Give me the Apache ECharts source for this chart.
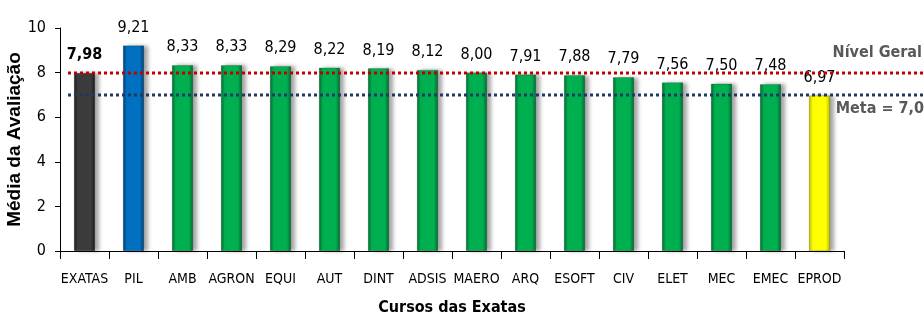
<!DOCTYPE html>
<html>
<head>
<meta charset="utf-8">
<script src="https://cdn.jsdelivr.net/npm/echarts@6/dist/echarts.min.js"></script>
<style>
  html, body { margin: 0; padding: 0; background: #fff; }
  #chart { width: 924px; height: 320px; }
</style>
</head>
<body>
<div id="chart"></div>
<script>
// Course averages
const courses = ['EXATAS', 'PIL', 'AMB', 'AGRON', 'EQUI', 'AUT', 'DINT', 'ADSIS', 'MAERO', 'ARQ', 'ESOFT', 'CIV', 'ELET', 'MEC', 'EMEC', 'EPROD'];
const averages = [7.98, 9.21, 8.33, 8.33, 8.29, 8.22, 8.19, 8.12, 8.00, 7.91, 7.88, 7.79, 7.56, 7.50, 7.48, 6.97];
const generalLevel = 7.98;
const target = 7.0;
const yTicks = [0, 2, 4, 6, 8, 10];

const FONT = '"Liberation Sans Narrow", "DejaVu Sans Condensed", "Open Sans", sans-serif';

function barColor(i) {
  let base, edge;
  if (i === 0) { base = '#3c3c3c'; edge = '#1c1c1c'; }
  else if (i === 1) { base = '#0070c0'; edge = '#003f73'; }
  else if (i === courses.length - 1) { base = '#ffff00'; edge = '#b8b800'; }
  else { base = '#00b050'; edge = '#006a2e'; }
  return {
    type: 'linear', x: 0, y: 0, x2: 1, y2: 0,
    colorStops: [
      { offset: 0, color: edge },
      { offset: 0.18, color: base },
      { offset: 0.8, color: base },
      { offset: 1, color: edge }
    ]
  };
}

const chart = echarts.init(document.getElementById('chart'), null, { renderer: 'canvas' });

chart.setOption({
  animation: false,
  grid: [
    { left: 60, right: 80, top: 28, bottom: 69, containLabel: false, outerBoundsMode: 'none' },
    { left: 68, right: 0, top: 28, bottom: 69, containLabel: false, outerBoundsMode: 'none' }
  ],
  xAxis: [
    {
      type: 'category', gridIndex: 0, data: courses,
      axisLine: { lineStyle: { color: '#000', width: 1 } },
      axisTick: { show: true, alignWithLabel: false, length: 8, lineStyle: { color: '#000' } },
      axisLabel: { color: '#000', fontFamily: FONT, fontSize: 14, margin: 21, interval: 0 },
      name: 'Cursos das Exatas', nameLocation: 'middle', nameGap: 49, nameMoveOverlap: false,
      nameTextStyle: { fontFamily: FONT, fontSize: 16, fontWeight: 'bold', color: '#000' }
    },
    { type: 'value', gridIndex: 1, min: 0, max: 1, show: false }
  ],
  yAxis: [
    {
      type: 'value', gridIndex: 0, min: 0, max: 10, interval: 2,
      axisLine: { show: true, lineStyle: { color: '#000', width: 1 } },
      axisTick: { show: true, length: 5, lineStyle: { color: '#000' } },
      splitLine: { show: false },
      axisLabel: {
        color: '#000', fontFamily: FONT, fontSize: 16, margin: 14,
        formatter: v => yTicks.includes(v) ? String(v) : ''
      },
      name: 'Média da Avaliação', nameLocation: 'middle', nameGap: 36, nameRotate: 90, nameMoveOverlap: false,
      nameTextStyle: { fontFamily: '"Liberation Sans", Arial, sans-serif', fontSize: 19, fontWeight: 'bold', color: '#000' }
    },
    { type: 'value', gridIndex: 1, min: 0, max: 10, show: false }
  ],
  series: [
    {
      type: 'bar', xAxisIndex: 0, yAxisIndex: 0, barWidth: 21, z: 3,
      data: averages.map((v, i) => ({
        value: v,
        itemStyle: {
          color: barColor(i),
          borderColor: 'rgba(0,0,0,0.35)', borderWidth: 0.5,
          shadowColor: 'rgba(0,0,0,0.35)', shadowBlur: 4, shadowOffsetX: 4, shadowOffsetY: 0
        },
        label: {
          show: true, position: 'top', distance: 10,
          fontFamily: FONT, fontSize: 16, color: '#000',
          fontWeight: i === 0 ? 'bold' : 'normal',
          formatter: p => p.value.toFixed(2).replace('.', ',')
        }
      }))
    },
    {
      type: 'line', xAxisIndex: 1, yAxisIndex: 1, z: 4, symbol: 'none',
      data: [[0, generalLevel], [1, generalLevel]],
      lineStyle: { color: '#c00000', width: 3, type: [3, 3] }
    },
    {
      type: 'line', xAxisIndex: 1, yAxisIndex: 1, z: 4, symbol: 'none',
      data: [[0, target], [1, target]],
      lineStyle: { color: '#1f3864', width: 3, type: [3, 3] }
    }
  ],
  graphic: [
    {
      type: 'text', right: 2, top: 45,
      style: { text: 'Nível Geral', fontFamily: FONT, fontSize: 16, fontWeight: 'bold', fill: '#595959' }
    },
    {
      type: 'text', right: 0, top: 101,
      style: { text: 'Meta = 7,0', fontFamily: FONT, fontSize: 16, fontWeight: 'bold', fill: '#595959' }
    }
  ]
});
</script>
</body>
</html>
